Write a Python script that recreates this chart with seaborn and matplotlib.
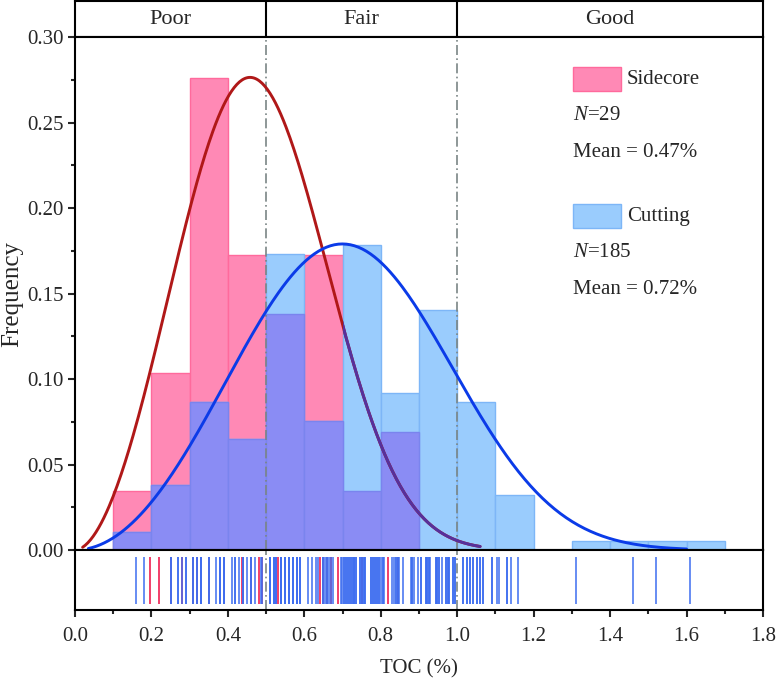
import numpy as np
import matplotlib
matplotlib.use("Agg")
import matplotlib.pyplot as plt
from matplotlib.patches import Rectangle
from matplotlib.path import Path
from matplotlib.ticker import MultipleLocator, FormatStrFormatter
import seaborn as sns

sidecore = [0.197, 0.22, 0.25, 0.28, 0.31, 0.32, 0.32, 0.33, 0.35, 0.38, 0.38, 0.39,
            0.436, 0.44, 0.46, 0.481, 0.49, 0.531, 0.54, 0.56, 0.58,
            0.641, 0.65, 0.66, 0.67, 0.688, 0.75, 0.82, 0.845]
cutting = [0.16, 0.18,
           0.25, 0.25, 0.27, 0.27, 0.28, 0.29, 0.29,
           0.31, 0.31, 0.32, 0.32, 0.33, 0.33, 0.33, 0.35, 0.35, 0.37, 0.38, 0.38, 0.38, 0.39, 0.39, 0.39,
           0.41, 0.42, 0.42, 0.43, 0.44, 0.44, 0.45, 0.46, 0.46, 0.47, 0.488, 0.49,
           0.51, 0.51, 0.51, 0.52, 0.52, 0.52, 0.527, 0.527, 0.527, 0.54, 0.54, 0.54, 0.54,
           0.55, 0.55, 0.55, 0.55, 0.56, 0.56, 0.56, 0.56, 0.56, 0.57, 0.57, 0.57, 0.57,
           0.58, 0.58, 0.58, 0.59, 0.59, 0.59,
           0.61, 0.62, 0.63, 0.635, 0.65, 0.65, 0.655, 0.66, 0.66, 0.665, 0.67, 0.675, 0.695, 0.698,
           0.705, 0.705, 0.71, 0.71, 0.715, 0.715, 0.72, 0.72, 0.725, 0.725, 0.73, 0.73, 0.73, 0.735, 0.735,
           0.745, 0.745, 0.75, 0.75, 0.755, 0.755, 0.76, 0.76,
           0.775, 0.775, 0.78, 0.78, 0.785, 0.785, 0.79, 0.79, 0.795, 0.795,
           0.801, 0.805, 0.805, 0.809, 0.83, 0.835, 0.84, 0.84, 0.845, 0.845, 0.848, 0.857,
           0.878, 0.883, 0.883, 0.888, 0.897,
           0.905, 0.905, 0.918, 0.918, 0.922, 0.922, 0.927, 0.927, 0.93, 0.944, 0.944, 0.948, 0.948,
           0.953, 0.953, 0.96, 0.97, 0.97, 0.975, 0.975, 0.979, 0.979, 0.988, 0.988, 0.994, 0.994,
           1.015, 1.015, 1.025, 1.025, 1.034, 1.034, 1.042, 1.042, 1.051, 1.051, 1.06, 1.06,
           1.068, 1.068, 1.09, 1.09,
           1.105, 1.11, 1.13, 1.13, 1.14, 1.16,
           1.31, 1.46, 1.52, 1.61]
bin_edges = [0.1, 0.2, 0.3, 0.4, 0.5, 0.6, 0.7, 0.8, 0.9, 1.0, 1.1, 1.2, 1.3, 1.4, 1.5, 1.6, 1.7]

# fitted curves (peak height, weibull shape, scale, drawn range)
side_peak, side_k, side_lam, side_range = 0.2764, 2.85, 0.533, (0.02, 1.06)
cut_peak, cut_k, cut_lam, cut_range = 0.179, 3.0, 0.801, (0.035, 1.60)

classes = ["Poor", "Fair", "Good"]
class_edges = [0.0, 0.5, 1.0, 1.8]
side_text = ["Sidecore", "$N$=29", "Mean = 0.47%"]
cut_text = ["Cutting", "$N$=185", "Mean = 0.72%"]

pink, pink_edge = "#FF89B5", "#FF6A9C"
lblue, lblue_edge = "#9ACCFD", "#7DB6F7"
purple, purple_edge = "#8A8CF4", "#7A84EE"


def fit_curve(x, peak, k, lam):
    # weibull shape scaled so its mode sits at `peak`
    mode = lam * ((k - 1) / k) ** (1 / k)
    return peak * (x / mode) ** (k - 1) * np.exp(-((x / lam) ** k - (k - 1) / k))


sns.set_theme(style="ticks")
plt.rcParams["font.family"] = ["Liberation Serif", "DejaVu Serif"]
plt.rcParams["mathtext.fontset"] = "custom"
plt.rcParams["mathtext.rm"] = "Liberation Serif"
plt.rcParams["mathtext.it"] = "Liberation Serif:italic"
FS = 15

fig = plt.figure(figsize=(7.76, 6.82), dpi=100)
L, W = 0.0966, 0.8866
ax_top = fig.add_axes([L, 0.9457, W, 0.0528])
ax = fig.add_axes([L, 0.1935, W, 0.7522])
ax_rug = fig.add_axes([L, 0.1056, W, 0.0880])

# histograms
sns.histplot(x=sidecore, bins=bin_edges, stat="proportion", color=pink, alpha=1,
             edgecolor=pink_edge, linewidth=1, ax=ax, zorder=1)
n0 = len(ax.patches)
sns.histplot(x=cutting, bins=bin_edges, stat="proportion", color=lblue, alpha=1,
             edgecolor=lblue_edge, linewidth=1, ax=ax, zorder=1)
cut_patches = ax.patches[n0:]
h_s = np.histogram(sidecore, bins=bin_edges)[0] / len(sidecore)
h_c = np.histogram(cutting, bins=bin_edges)[0] / len(cutting)
ax.bar(bin_edges[:-1], np.minimum(h_s, h_c), width=np.diff(bin_edges), align="edge",
       color=purple, edgecolor=purple_edge, linewidth=1, zorder=1)

# fitted curves
xs = np.linspace(side_range[0], side_range[1], 300)
ys = fit_curve(xs, side_peak, side_k, side_lam)
ax.plot(xs, ys, color="#B01818", lw=2.1, zorder=3)
# part of the red curve seen through the cutting bars
clip = Path.make_compound_path(*[p.get_path().transformed(p.get_patch_transform()) for p in cut_patches])
shade, = ax.plot(xs, ys, color="#56309C", lw=2.1, zorder=3.5)
shade.set_clip_path(clip, ax.transData)

xc = np.linspace(cut_range[0], cut_range[1], 300)
ax.plot(xc, fit_curve(xc, cut_peak, cut_k, cut_lam), color="#0B3BE8", lw=2.1, zorder=4)

for a in (ax, ax_rug):
    for v in class_edges[1:-1]:
        a.axvline(v, color="#7A8585", lw=1.2, ls=(0, (6, 2, 1, 2)), zorder=2.5)

ax.set_xlim(0, 1.8)
ax.set_ylim(0, 0.30)
ax.set_xticks([])
ax.set_xlabel("")
ax.set_ylabel("Frequency", fontsize=18, labelpad=3)
ax.yaxis.set_major_locator(MultipleLocator(0.05))
ax.yaxis.set_minor_locator(MultipleLocator(0.025))
ax.yaxis.set_major_formatter(FormatStrFormatter("%.2f"))
ax.tick_params(axis="y", which="major", direction="out", length=5, width=1.5, labelsize=FS, pad=3)
ax.tick_params(axis="y", which="minor", direction="out", length=3, width=1.5)

# legend block
for y0, col, ecol, lines in [(0.8947, pink, pink_edge, side_text), (0.6277, lblue, lblue_edge, cut_text)]:
    ax.add_patch(Rectangle((0.724, y0), 0.0698, 0.0468, transform=ax.transAxes,
                           facecolor=col, edgecolor=ecol, lw=1, zorder=5))
    ax.text(0.802, y0 + 0.0234, lines[0], transform=ax.transAxes, fontsize=FS, va="center")
    ax.text(0.724, y0 - 0.047, lines[1], transform=ax.transAxes, fontsize=FS, va="center")
    ax.text(0.724, y0 - 0.119, lines[2], transform=ax.transAxes, fontsize=FS, va="center")

# rug strip
ax_rug.vlines(sidecore, 0.1, 0.883, transform=ax_rug.get_xaxis_transform(), color="#F0305E", lw=1.3)
ax_rug.vlines(cutting, 0.1, 0.883, transform=ax_rug.get_xaxis_transform(), color="#3E6EF0", lw=1.3, alpha=0.85)
ax_rug.set_xlim(0, 1.8)
ax_rug.set_ylim(0, 1)
ax_rug.set_yticks([])
ax_rug.xaxis.set_major_locator(MultipleLocator(0.2))
ax_rug.xaxis.set_minor_locator(MultipleLocator(0.1))
ax_rug.xaxis.set_major_formatter(FormatStrFormatter("%.1f"))
ax_rug.tick_params(axis="x", which="major", direction="out", length=5, width=1.5, labelsize=FS, pad=7)
ax_rug.tick_params(axis="x", which="minor", direction="out", length=3, width=1.5)
ax_rug.set_xlabel("TOC (%)", fontsize=FS, labelpad=10)

# class band on top
ax_top.set_xlim(0, 1.8)
ax_top.set_ylim(0, 1)
ax_top.set_xticks([])
ax_top.set_yticks([])
for v in class_edges[1:-1]:
    ax_top.axvline(v, color="black", lw=1.5)
for name, lo, hi in zip(classes, class_edges[:-1], class_edges[1:]):
    ax_top.text((lo + hi) / 2, 0.5, name, ha="center", va="center", fontsize=16)

for a in (ax_top, ax, ax_rug):
    for s in a.spines.values():
        s.set_visible(True)
        s.set_color("black")
        s.set_linewidth(1.5)

fig.savefig("out.png", dpi=100)
